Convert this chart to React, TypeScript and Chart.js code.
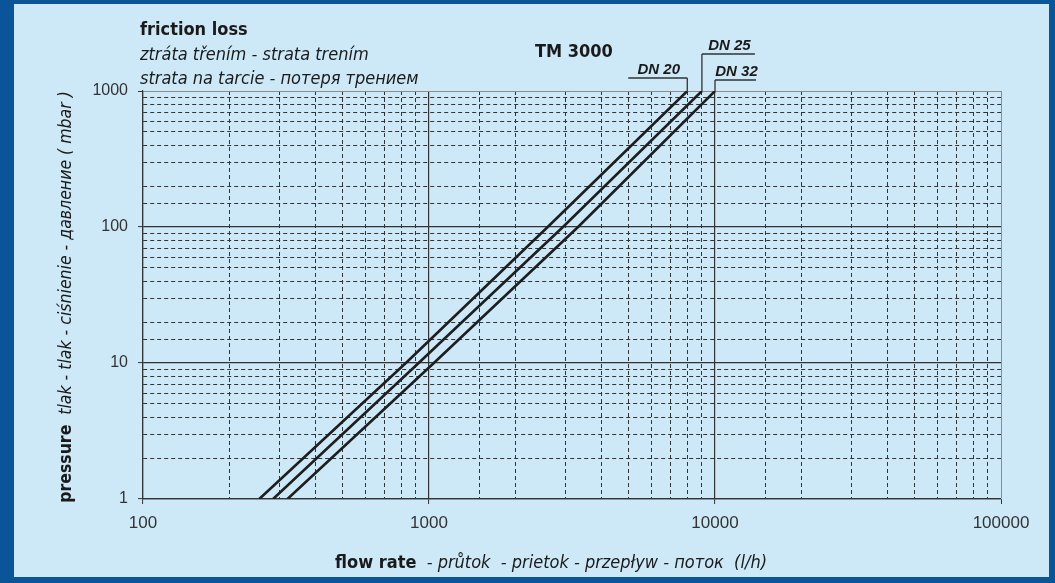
import React, { useEffect, useRef } from 'react';
import { Chart, registerables } from 'chart.js';

Chart.register(...registerables);

// ---- data ----
const pressure = [1, 10, 100, 1000];
const dn20Flow = [255, 830, 2600, 8000];
const dn25Flow = [285, 920, 2940, 9000];
const dn32Flow = [320, 1040, 3320, 10000];
const seriesNames = ['DN 20', 'DN 25', 'DN 32'];
const xRange = [100, 100000];
const yRange = [1, 1000];
const titleLines = ['friction loss', 'ztráta třením - strata trením', 'strata na tarcie - потеря трением'];
const chartLabel = 'TM 3000';
const xTitleBold = 'flow rate';
const xTitleRest = '  - průtok  - prietok - przepływ - поток  (l/h)';
const yTitleBold = 'pressure';
const yTitleRest = '  tlak - tlak - ciśnienie - давление ( mbar )';

// ---- styles ----
const NARROW = "'DejaVu Sans Condensed', 'Liberation Sans Narrow', 'Liberation Sans', sans-serif";
const SANS = "'Liberation Sans', Arial, sans-serif";
const annotStyle = [
  { side: 'left', rise: 13, len: 59 },
  { side: 'right', rise: 37, len: 53 },
  { side: 'right', rise: 11, len: 41 },
];

const isDecade = (v: number) => {
  const l = Math.log10(v);
  return Math.abs(l - Math.round(l)) < 1e-9;
};

const bgPlugin = {
  id: 'bgFrame',
  beforeDraw(chart: any) {
    const { ctx, width, height } = chart;
    ctx.save();
    ctx.fillStyle = '#0a5598';
    ctx.fillRect(0, 0, width, height);
    ctx.fillStyle = '#cde9f8';
    ctx.fillRect(14, 4, width - 14 - 6, height - 4 - 6);
    ctx.restore();
  },
};

const textPlugin = {
  id: 'texts',
  afterDatasetsDraw(chart: any) {
    const { ctx, chartArea } = chart;
    const { left, top, bottom } = chartArea;
    ctx.save();
    ctx.fillStyle = '#1a1a1a';
    ctx.textBaseline = 'alphabetic';
    ctx.textAlign = 'left';

    // titles
    ctx.font = `bold 18px ${NARROW}`;
    ctx.fillText(titleLines[0], left - 3, top - 56);
    ctx.font = `italic 18px ${NARROW}`;
    ctx.fillText(titleLines[1], left - 3, top - 31);
    ctx.fillText(titleLines[2], left - 3, top - 7);
    ctx.font = `bold 18px ${NARROW}`;
    ctx.fillText(chartLabel, 535, top - 34);

    // DN annotations
    ctx.strokeStyle = '#333';
    ctx.lineWidth = 1.3;
    chart.data.datasets.forEach((ds: any, i: number) => {
      const meta = chart.getDatasetMeta(i);
      const pt = meta.data[meta.data.length - 1];
      const px = pt.x;
      const py = pt.y;
      const st = annotStyle[i];
      const ly = py - st.rise;
      const x1 = st.side === 'left' ? px - st.len : px;
      const x2 = st.side === 'left' ? px : px + st.len;
      ctx.beginPath();
      ctx.moveTo(x1, ly);
      ctx.lineTo(x2, ly);
      ctx.moveTo(px, ly);
      ctx.lineTo(px, py);
      ctx.stroke();
      ctx.font = `italic bold 15px ${SANS}`;
      ctx.textAlign = 'center';
      ctx.fillText(ds.label, (x1 + x2) / 2 + 1, ly - 4);
      ctx.textAlign = 'left';
    });

    // x title
    const XF = 18;
    ctx.font = `bold ${XF}px ${NARROW}`;
    const xb = ctx.measureText(xTitleBold).width;
    ctx.font = `italic ${XF}px ${NARROW}`;
    const xr = ctx.measureText(xTitleRest).width;
    const sx = 551 - (xb + xr) / 2;
    const xy = bottom + 69;
    ctx.font = `bold ${XF}px ${NARROW}`;
    ctx.fillText(xTitleBold, sx, xy);
    ctx.font = `italic ${XF}px ${NARROW}`;
    ctx.fillText(xTitleRest, sx + xb, xy);

    // y title
    const YF = 17.5;
    ctx.translate(left - 72, (top + bottom) / 2 + 2);
    ctx.rotate(-Math.PI / 2);
    ctx.font = `bold ${YF}px ${NARROW}`;
    const yb = ctx.measureText(yTitleBold).width;
    ctx.font = `italic ${YF}px ${NARROW}`;
    const yr = ctx.measureText(yTitleRest).width;
    const sy = -(yb + yr) / 2;
    ctx.font = `bold ${YF}px ${NARROW}`;
    ctx.fillText(yTitleBold, sy, 0);
    ctx.font = `italic ${YF}px ${NARROW}`;
    ctx.fillText(yTitleRest, sy + yb, 0);

    ctx.restore();
  },
};

function gridColor(ctx: any) {
  const v = ctx.tick?.value;
  if (v === undefined) return '#333';
  const max = ctx.scale.max;
  if (Math.abs(v - max) < 1e-6) return '#8c8c8c';
  return '#333';
}
function gridWidth(ctx: any) {
  const v = ctx.tick?.value;
  if (v === undefined) return 1;
  return isDecade(v) && Math.abs(v - ctx.scale.max) > 1e-6 ? 1.2 : 1;
}
function gridDash(ctx: any) {
  const v = ctx.tick?.value;
  if (v === undefined) return [];
  return isDecade(v) ? [] : [4, 3];
}
function tickColor(ctx: any) {
  const v = ctx.tick?.value;
  if (v === undefined) return 'rgba(0,0,0,0)';
  return isDecade(v) ? '#333' : 'rgba(0,0,0,0)';
}

export default function App() {
  const ref = useRef<HTMLCanvasElement | null>(null);
  useEffect(() => {
    if (!ref.current) return;
    const mk = (xs: number[]) => xs.map((x, i) => ({ x, y: pressure[i] }));
    const lineStyle = {
      borderColor: '#1e1e1e',
      borderWidth: 2.6,
      pointRadius: 0,
      tension: 0,
      fill: false,
    };
    const chart = new Chart(ref.current, {
      type: 'line',
      data: {
        datasets: [
          { label: seriesNames[0], data: mk(dn20Flow), ...lineStyle },
          { label: seriesNames[1], data: mk(dn25Flow), ...lineStyle },
          { label: seriesNames[2], data: mk(dn32Flow), ...lineStyle },
        ],
      },
      options: {
        responsive: false,
        animation: false,
        layout: { padding: { left: 0, top: 91, right: 54, bottom: 0 } },
        plugins: { legend: { display: false }, tooltip: { enabled: false } },
        scales: {
          x: {
            type: 'logarithmic',
            min: xRange[0],
            max: xRange[1],
            afterFit: (s: any) => { s.height = 84; },
            grid: { color: gridColor, lineWidth: gridWidth, tickLength: 5, tickColor: tickColor, tickWidth: 1 },
            border: { display: true, color: '#333', width: 1.2, dash: gridDash },
            ticks: {
              autoSkip: false,
              maxRotation: 0,
              padding: 9,
              color: '#333',
              font: { family: SANS, size: 17 },
              callback: (v: any) => (isDecade(Number(v)) ? String(v) : ''),
            },
          },
          y: {
            type: 'logarithmic',
            min: yRange[0],
            max: yRange[1],
            afterFit: (s: any) => { s.width = 143; },
            grid: { color: gridColor, lineWidth: gridWidth, tickLength: 5, tickColor: tickColor, tickWidth: 1 },
            border: { display: true, color: '#333', width: 1.2, dash: gridDash },
            ticks: {
              autoSkip: false,
              padding: 10,
              color: '#333',
              font: { family: SANS, size: 16 },
              callback: (v: any) => (isDecade(Number(v)) ? String(v) : ''),
            },
          },
        },
      },
      plugins: [bgPlugin, textPlugin],
    } as any);
    return () => chart.destroy();
  }, []);
  return (
    <div style={{ position: 'absolute', left: 0, top: 0, width: 1055, height: 583 }}>
      <canvas ref={ref} width={1055} height={583} style={{ display: 'block' }} />
    </div>
  );
}
